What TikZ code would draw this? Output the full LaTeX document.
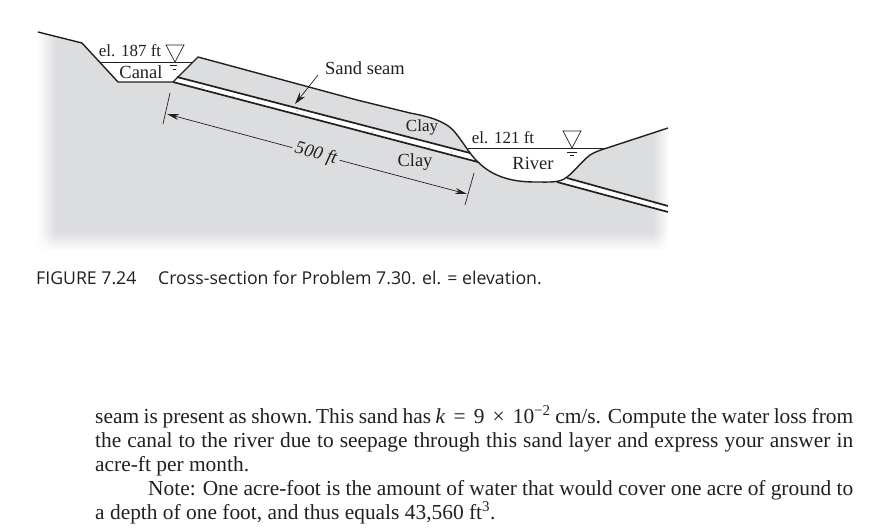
\documentclass[tikz,border=0pt]{standalone}
\usepackage{fontspec}
\setmainfont{Liberation Serif}
\newfontfamily\capfont{Open Sans}
\usetikzlibrary{arrows.meta,fadings}
\definecolor{groundgrey}{HTML}{DCDDDF}
\definecolor{inkline}{HTML}{231F20}
\tikzset{
  lbl/.style={inner sep=0pt,text=inkline,font=\fontsize{18.5}{20}\selectfont},
  ellbl/.style={inner sep=0pt,text=inkline,font=\fontsize{17}{20}\selectfont},
  body/.style={inner sep=0pt,anchor=base west,text=inkline,font=\fontsize{21.4}{24}\selectfont},
  capt/.style={inner sep=0pt,anchor=base west,text=inkline,font=\capfont\fontsize{17.7}{20}\selectfont},
  ground/.style={line width=1.4pt,inkline,line join=round},
  seam/.style={line width=1.7pt,inkline},
  thin line/.style={line width=.7pt,inkline},
  dimarrow/.style={thin line,-{Stealth[length=12pt,width=6pt]}}
}
\begin{document}
\begin{tikzpicture}[x=1pt,y=-1pt]
  \useasboundingbox (0,0) rectangle (882,528);
  % ground
  \fill[groundgrey] (38,32) -- (82,43) -- (118,82) -- (173,82) -- (198,57) -- (357,100) -- (410,113)
    .. controls (432,117) and (445,122) .. (453,130) .. controls (462,140) and (470,155) .. (478,162)
    .. controls (490,174) and (507,182) .. (535,182) .. controls (550,182) and (560,183) .. (567,177)
    .. controls (575,171) and (580,163) .. (590,155) .. controls (595,152) and (600,150) .. (607,148)
    -- (668,128) -- (668,250) -- (38,250) -- cycle;
  \fill[white,path fading=east] (37,30) rectangle (56,251);
  \fill[white,path fading=west] (653,120) rectangle (669,251);
  \fill[white,path fading=north] (37,232) rectangle (669,251);
  % sand seam
  \fill[white] (177,77) -- (470,153) -- (478,162) -- (173,82) -- cycle;
  \fill[white] (567,178) -- (668,206) -- (668,212) -- (557,182) -- cycle;
  \draw[seam] (177,77) -- (470,153);
  \draw[seam] (173,82) -- (478,162);
  \draw[seam] (567,178) -- (668,206);
  \draw[seam] (557,182) -- (668,212);
  \foreach \px/\py in {202/87,233/96,258/99,287/106,297/111,337/119,372/132,410/139,429/147,451/152,572/181,596/190,625/197,655/204}
    \fill[inkline] (\px,\py) circle (.5pt);
  % surface
  \draw[ground] (38,32) -- (82,43) -- (118,82) -- (173,82) -- (198,57) -- (357,100) -- (410,113)
    .. controls (432,117) and (445,122) .. (453,130) .. controls (462,140) and (470,155) .. (478,162)
    .. controls (490,174) and (507,182) .. (535,182) .. controls (550,182) and (560,183) .. (567,177)
    .. controls (575,171) and (580,163) .. (590,155) .. controls (595,152) and (600,150) .. (607,148)
    -- (668,128);
  % water
  \draw[thin line] (100,62) -- (193,62);
  \draw[thin line] (468,148) -- (607,148);
  \draw[thin line] (166,45) -- (184,45) -- (175,62) -- cycle;
  \draw[thin line] (563,131) -- (581,131) -- (572,148) -- cycle;
  \draw[thin line] (170,65) -- (177,65) (173,69) -- (176,69);
  \draw[thin line] (567,152) -- (577,152) (570,155) -- (574,155);
  % labels
  \node[ellbl] (elcanal) at (130,51) {el. 187 ft};
  \node[lbl] (canal) at (141,72) {Canal};
  \node[lbl,anchor=west] (sand) at (325,68) {Sand seam};
  \node[ellbl] (clayup) at (422,127) {Clay};
  \node[lbl] (claylow) at (415,162) {Clay};
  \node[ellbl] (elriver) at (503,138) {el. 121 ft};
  \node[lbl] (river) at (533,163) {River};
  % seam pointer
  \coordinate (seamtip) at (295,104);
  \draw[thin line,-{Stealth[length=12pt,width=7pt]}] (318,75) -- (seamtip);
  % length dimension
  \coordinate (dimleft) at (167,114);
  \coordinate (dimright) at (467,194);
  \draw[thin line] (170,93) -- (163,124);
  \draw[thin line] (474,173) -- (465,205);
  \node[lbl,font=\itshape\fontsize{18.5}{20}\selectfont,rotate=-15,inner sep=3pt] (len) at (316,154) {500 ft};
  \draw[dimarrow] (len) -- (dimleft);
  \draw[dimarrow] (len) -- (dimright);
  % caption
  \node[capt] (figno) at (36,284) {FIGURE 7.24};
  \node[capt] (figtxt) at (158,284) {Cross-section for Problem 7.30. el. = elevation.};
  % text below
  \node[body] (lineone) at (95,423) {\hbox to 758pt{seam is present as shown.\,This sand has \textit{k}~\,=~\,9~\,×~\,10\textsuperscript{−2} cm/s. Compute the water loss from}};
  \node[body] (linetwo) at (95,447) {\hbox to 758pt{the canal to the river due to seepage through this sand layer and express your answer in}};
  \node[body] (linethree) at (95,471) {acre-ft per month.};
  \node[body] (linefour) at (148,495) {\hbox to 705pt{Note: One acre-foot is the amount of water that would cover one acre of ground to}};
  \node[body] (linefive) at (95,519) {a depth of one foot, and thus equals 43,560 ft\textsuperscript{3}.};
\end{tikzpicture}
\end{document}
